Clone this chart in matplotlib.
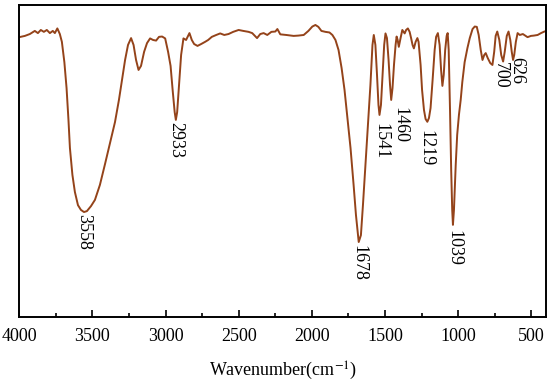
import matplotlib
matplotlib.use("Agg")
import matplotlib.pyplot as plt
from matplotlib.ticker import MultipleLocator
import numpy as np

# FTIR spectrum (wavenumber cm-1, transmittance a.u.)
wavenumber = [
    4000, 3962, 3928, 3894, 3873, 3853, 3832, 3812, 3791, 3771, 3757, 3740, 3723, 3709,
    3692, 3677, 3664, 3654, 3637, 3620, 3599, 3579, 3558, 3538, 3510, 3483, 3449, 3414,
    3380, 3346, 3319, 3298, 3277, 3257, 3236, 3219, 3202, 3185, 3168, 3147, 3127, 3106,
    3086, 3065, 3045, 3024, 3003, 2983, 2966, 2952, 2938, 2930, 2921, 2908, 2894, 2878,
    2860, 2837, 2821, 2805, 2782, 2757, 2730, 2709, 2684, 2654, 2627, 2599, 2570, 2538,
    2501, 2469, 2433, 2408, 2375, 2353, 2330, 2305, 2277, 2250, 2236, 2216, 2175, 2125,
    2093, 2056, 2024, 1997, 1976, 1956, 1935, 1908, 1880, 1860, 1839, 1818, 1797, 1777,
    1756, 1736, 1715, 1699, 1680, 1665, 1651, 1634, 1617, 1600, 1586, 1577, 1566, 1555,
    1545, 1538, 1528, 1517, 1506, 1497, 1487, 1476, 1466, 1458, 1449, 1439, 1428, 1421,
    1414, 1406, 1394, 1382, 1373, 1366, 1356, 1344, 1332, 1322, 1312, 1303, 1291, 1279,
    1271, 1257, 1247, 1234, 1223, 1211, 1200, 1189, 1175, 1161, 1151, 1139, 1127, 1117,
    1108, 1099, 1089, 1079, 1072, 1065, 1056, 1048, 1041, 1036, 1029, 1017, 1007, 995,
    983, 972, 956, 937, 921, 902, 887, 873, 860, 846, 834, 822, 812, 798,
    781, 766, 754, 744, 733, 719, 706, 693, 682, 668, 656, 644, 634, 625,
    617, 606, 594, 579, 558, 526, 503, 483, 457, 434, 411, 392,
]
transmittance = [
    89.7, 90.1, 90.7, 91.7, 91.0, 92.0, 91.4, 92.0, 91.0, 91.7, 91.0, 92.5, 90.7, 88.2,
    81.7, 73.4, 63.2, 54.2, 45.6, 40.1, 35.9, 34.4, 33.7, 34.0, 35.6, 37.6, 42.4, 49.1,
    55.8, 62.5, 69.6, 76.0, 82.4, 87.2, 89.4, 87.2, 82.4, 79.2, 80.5, 85.0, 87.8, 89.3,
    88.8, 88.6, 89.8, 89.9, 89.3, 85.0, 80.5, 72.8, 65.7, 63.2, 65.7, 74.4, 84.0, 89.3,
    88.8, 91.0, 88.8, 87.5, 86.9, 87.5, 88.2, 88.8, 89.8, 90.4, 90.9, 90.4, 90.7, 91.4,
    92.0, 91.7, 91.4, 91.0, 89.4, 90.7, 91.0, 90.4, 91.4, 91.5, 92.3, 90.6, 90.4, 90.1,
    90.2, 90.4, 91.7, 93.1, 93.6, 93.0, 91.7, 91.4, 91.2, 90.4, 88.8, 85.6, 79.8, 72.8,
    63.2, 54.2, 42.4, 32.8, 24.1, 26.3, 36.0, 48.8, 61.6, 74.4, 87.2, 90.4, 87.2, 77.6,
    68.0, 64.8, 68.0, 77.6, 87.2, 90.9, 89.4, 82.4, 74.4, 69.6, 73.4, 80.8, 87.2, 89.9,
    88.8, 86.6, 89.4, 92.0, 91.4, 90.9, 92.0, 92.5, 91.4, 89.4, 87.2, 86.1, 88.2, 89.4,
    88.2, 80.8, 72.8, 66.4, 63.5, 62.6, 63.8, 67.0, 76.0, 85.6, 89.8, 91.0, 87.2, 79.2,
    74.1, 77.6, 85.6, 90.1, 91.0, 85.6, 66.4, 47.2, 34.4, 29.6, 34.4, 48.8, 58.4, 64.8,
    69.6, 75.3, 81.7, 86.2, 89.4, 92.3, 93.1, 93.0, 90.4, 85.6, 82.4, 84.0, 84.6, 83.0,
    81.4, 80.8, 85.0, 90.1, 91.5, 88.8, 84.0, 81.9, 85.0, 90.1, 91.5, 88.8, 85.0, 82.4,
    84.0, 88.2, 91.0, 90.4, 90.7, 89.7, 90.1, 90.2, 90.4, 91.0, 91.5, 91.7,
]

# labelled absorption peaks
peak_labels = [3558, 2933, 1678, 1541, 1460, 1219, 1039, 700, 626]
# label nudges in pixels (dx, dy) so the text sits like in the reference
label_offsets = {
    3558: (0, -2), 2933: (0, -2), 1678: (0, -3), 1541: (2, -8), 1460: (9, -7),
    1219: (0, -8), 1039: (1, -5), 700: (-2, 0), 626: (4, 3),
}

plt.rcParams["font.family"] = ["Liberation Serif", "DejaVu Serif"]
plt.rcParams["mathtext.fontset"] = "stix"

fig = plt.figure(figsize=(5.5, 3.81), dpi=100)
ax = fig.add_axes([0.0351, 0.1672, 0.9576, 0.8197])

w = np.array(wavenumber)
t = np.array(transmittance)
ax.plot(w, t, color="#94431a", lw=1.4)

for pk in peak_labels:
    near = np.abs(w - pk) <= 25
    ymin = t[near].min()
    dx, dy = label_offsets[pk]
    ax.annotate(str(pk), xy=(pk, ymin), xytext=(dx, dy), textcoords="offset pixels",
                rotation=-90, ha="center", va="top", fontsize=13)

ax.set_xlim(4000, 400)
ax.set_ylim(0, 100)
ax.xaxis.set_major_locator(MultipleLocator(500))
ax.xaxis.set_minor_locator(MultipleLocator(250))
ax.tick_params(axis="x", which="major", direction="in", length=5, width=1.2, pad=8, labelsize=13)
ax.tick_params(axis="x", which="minor", direction="in", length=3, width=1.2)
ax.set_yticks([])
for sp in ax.spines.values():
    sp.set_linewidth(1.4)

ax.set_xlabel("Wavenumber(cm$^{-1}$)", fontsize=13, labelpad=10)

fig.savefig("out.png", dpi=100)
